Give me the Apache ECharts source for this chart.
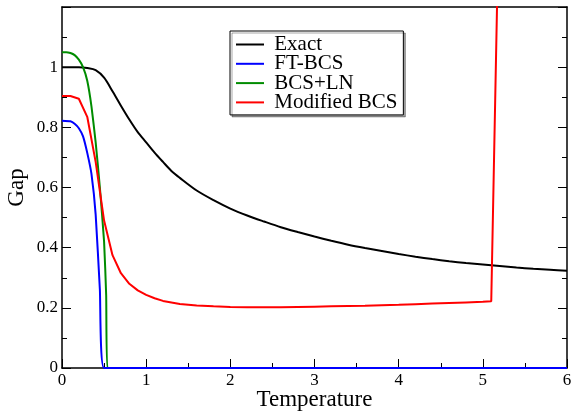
<!DOCTYPE html>
<html>
<head>
<meta charset="utf-8">
<script src="https://cdn.jsdelivr.net/npm/echarts@6/dist/echarts.min.js"></script>
<style>
  html, body { margin: 0; padding: 0; background: #fff; }
  #chart { width: 573px; height: 412px; }
</style>
</head>
<body>
<div id="chart"></div>
<script>
// Gap versus temperature for four treatments of the pairing problem
const seriesNames = ['Exact', 'FT-BCS', 'BCS+LN', 'Modified BCS'];

const exactT   = [0, 0.1, 0.2, 0.3, 0.4, 0.5, 0.6, 0.7, 0.8, 0.9, 1.0, 1.1, 1.2, 1.3, 1.4, 1.6, 1.8, 2.0, 2.2, 2.4, 2.6, 2.8, 3.0, 3.2, 3.4, 3.6, 3.8, 4.0, 4.2, 4.4, 4.6, 4.8, 5.0, 5.2, 5.4, 5.6, 5.8, 6.0];
const exactGap = [1.0, 1.0, 1.0, 0.997, 0.99, 0.965, 0.92, 0.872, 0.826, 0.784, 0.75, 0.716, 0.685, 0.655, 0.632, 0.59, 0.558, 0.53, 0.507, 0.487, 0.468, 0.452, 0.437, 0.423, 0.41, 0.399, 0.389, 0.379, 0.37, 0.362, 0.355, 0.349, 0.344, 0.339, 0.334, 0.33, 0.327, 0.323];

const ftbcsT   = [0, 0.1, 0.15, 0.2, 0.25, 0.3, 0.35, 0.4, 0.45, 0.5, 1, 2, 3, 4, 5, 6];
const ftbcsGap = [0.822, 0.82, 0.812, 0.797, 0.77, 0.715, 0.645, 0.51, 0.26, 0, 0, 0, 0, 0, 0, 0];

const lnT   = [0, 0.05, 0.1, 0.15, 0.2, 0.25, 0.3, 0.35, 0.4, 0.45, 0.5, 0.525, 0.54, 1, 2, 3, 4, 5, 6];
const lnGap = [1.05, 1.05, 1.047, 1.04, 1.025, 1.0, 0.955, 0.87, 0.75, 0.6, 0.42, 0.24, 0, 0, 0, 0, 0, 0, 0];

const modT   = [0, 0.1, 0.2, 0.3, 0.4, 0.5, 0.6, 0.7, 0.8, 0.9, 1.0, 1.1, 1.2, 1.4, 1.6, 1.8, 2.0, 2.2, 2.4, 2.6, 2.8, 3.0, 3.2, 3.4, 3.6, 3.8, 4.0, 4.2, 4.4, 4.6, 4.8, 5.0, 5.1, 5.2];
const modGap = [0.904, 0.904, 0.895, 0.835, 0.685, 0.49, 0.375, 0.315, 0.28, 0.258, 0.243, 0.232, 0.223, 0.213, 0.208, 0.205, 0.203, 0.202, 0.202, 0.202, 0.203, 0.204, 0.205, 0.206, 0.207, 0.209, 0.21, 0.212, 0.214, 0.216, 0.218, 0.22, 0.222, 1.65];

const xTicks = [0, 1, 2, 3, 4, 5, 6];
const yTicks = [0, 0.2, 0.4, 0.6, 0.8, 1, 1.2];

const pairs = (xs, ys) => xs.map((x, i) => [x, ys[i]]);

const FONT = 'Liberation Serif';

const chart = echarts.init(document.getElementById('chart'), null, { renderer: 'canvas' });

function lineSeries(name, xs, ys, color, smooth) {
  return {
    name: name,
    type: 'line',
    data: pairs(xs, ys),
    showSymbol: false,
    symbol: 'none',
    clip: true,
    smooth: smooth,
    lineStyle: { color: color, width: 2 },
    itemStyle: { color: color },
    animation: false
  };
}

const legendText = { fontFamily: FONT, fontSize: 21, color: '#000', lineHeight: 19 };

chart.setOption({
  animation: false,
  backgroundColor: '#fff',
  grid: { left: 62, top: 7, width: 505, height: 361, containLabel: false, outerBoundsMode: 'none' },
  legend: {
    data: seriesNames,
    orient: 'vertical',
    left: 230,
    top: 31,
    icon: 'rect',
    itemWidth: 28,
    itemHeight: 2,
    itemGap: -1.7,
    padding: [3, 6, 2, 6],
    backgroundColor: '#fff',
    borderColor: '#000',
    borderWidth: 1,
    borderRadius: 0,
    shadowColor: 'rgba(0,0,0,0.35)',
    shadowOffsetX: 2,
    shadowOffsetY: 2,
    shadowBlur: 0,
    formatter: name => ' ' + name,
    textStyle: legendText
  },
  xAxis: [{
    type: 'value',
    min: xTicks[0],
    max: xTicks[xTicks.length - 1],
    interval: 1,
    name: 'Temperature',
    nameLocation: 'middle',
    nameGap: 20,
    nameMoveOverlap: false,
    nameTextStyle: { fontFamily: FONT, fontSize: 23, color: '#000' },
    axisLine: { show: true, onZero: false, lineStyle: { color: '#000', width: 1.5 } },
    axisTick: { show: true, inside: true, length: 9, lineStyle: { color: '#000', width: 1 } },
    minorTick: { show: true, splitNumber: 2, length: 5, lineStyle: { color: '#000', width: 1 } },
    axisLabel: { fontFamily: FONT, fontSize: 17, color: '#000', margin: 4 },
    splitLine: { show: false }
  }, {
    type: 'value',
    position: 'top',
    min: xTicks[0],
    max: xTicks[xTicks.length - 1],
    interval: 1,
    axisLine: { show: true, onZero: false, lineStyle: { color: '#000', width: 1.5 } },
    axisTick: { show: false },
    axisLabel: { show: false },
    splitLine: { show: false }
  }],
  yAxis: [{
    type: 'value',
    min: yTicks[0],
    max: yTicks[yTicks.length - 1],
    interval: 0.2,
    name: 'Gap',
    nameLocation: 'middle',
    nameGap: 34,
    nameMoveOverlap: false,
    nameTextStyle: { fontFamily: FONT, fontSize: 23, color: '#000' },
    axisLine: { show: true, onZero: false, lineStyle: { color: '#000', width: 1.5 } },
    axisTick: { show: true, inside: true, length: 9, lineStyle: { color: '#000', width: 1 } },
    minorTick: { show: true, splitNumber: 2, length: 5, lineStyle: { color: '#000', width: 1 } },
    axisLabel: {
      fontFamily: FONT, fontSize: 17, color: '#000', margin: 4,
      formatter: v => (Math.abs(v - 1.2) < 1e-9 ? '' : String(Math.round(v * 10) / 10))
    },
    splitLine: { show: false }
  }, {
    type: 'value',
    position: 'right',
    min: yTicks[0],
    max: yTicks[yTicks.length - 1],
    interval: 0.2,
    axisLine: { show: true, onZero: false, lineStyle: { color: '#000', width: 1.5 } },
    axisTick: { show: true, inside: true, length: 9, lineStyle: { color: '#000', width: 1 } },
    minorTick: { show: true, splitNumber: 2, length: 5, lineStyle: { color: '#000', width: 1 } },
    axisLabel: { show: false },
    splitLine: { show: false }
  }],
  series: [
    lineSeries('Exact', exactT, exactGap, '#000000', 0.3),
    lineSeries('BCS+LN', lnT, lnGap, '#008c00', 0.15),
    lineSeries('FT-BCS', ftbcsT, ftbcsGap, '#0000ff', 0.15),
    lineSeries('Modified BCS', modT, modGap, '#ff0000', false)
  ]
});
</script>
</body>
</html>
